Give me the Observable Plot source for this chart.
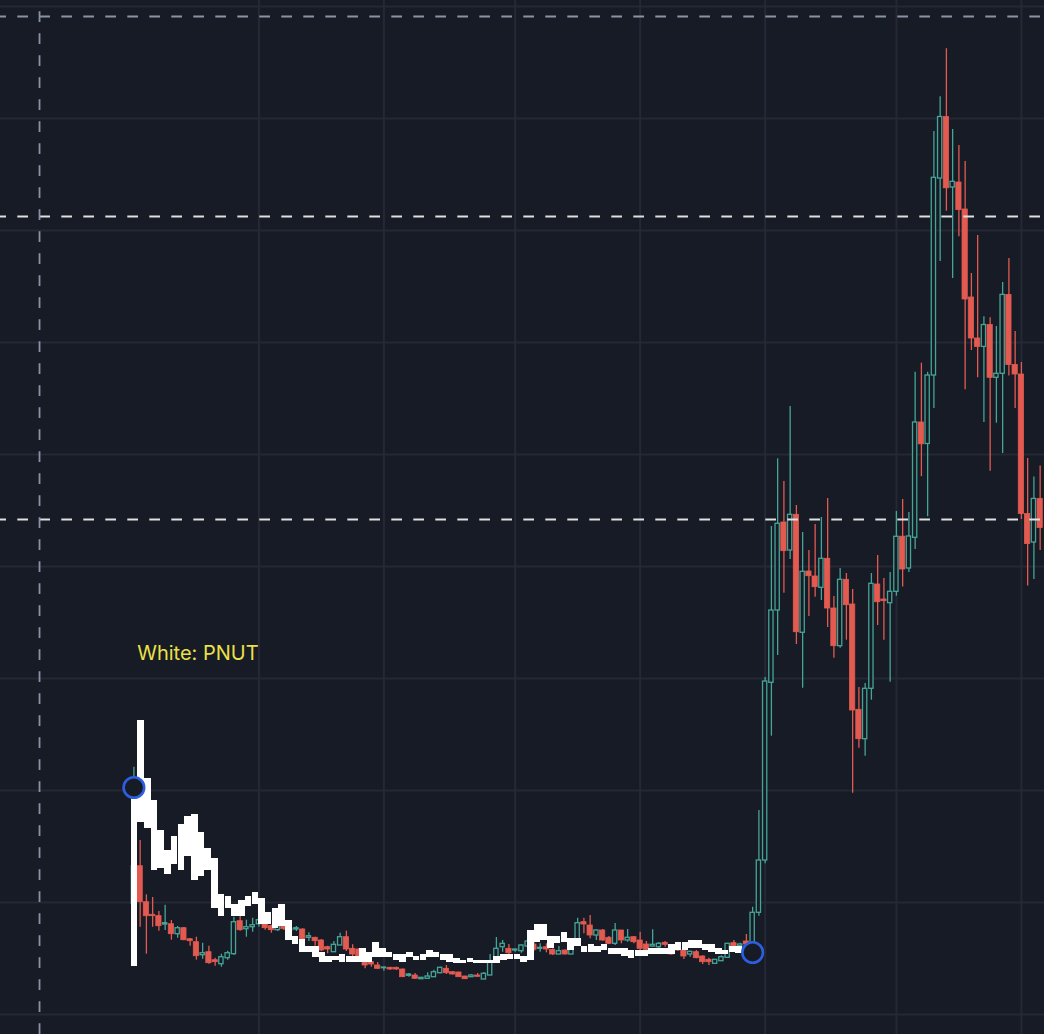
<!DOCTYPE html>
<html><head><meta charset="utf-8">
<script src="https://cdn.jsdelivr.net/npm/d3@7"></script>
<script src="https://cdn.jsdelivr.net/npm/@observablehq/plot@0.6"></script>
<style>
html,body{margin:0;padding:0;background:#171b26;}
#chart{position:relative;width:1044px;height:1034px;overflow:hidden;}
#chart svg{position:absolute;left:0;top:0;}
</style></head><body><div id="chart"></div>
<script>
// Coin candles (teal/red), price in arbitrary chart units, one entry per candle
const coinOpen = [
110.7,148.3,112.3,99.7,98.3,90,90.3,80.3,86.3,75.3,
72.3,59.3,62.3,54.3,50.3,56.3,60.3,93.3,85.3,87.3,
90.3,90.3,88.3,84.3,88.3,84,85,85,76.7,76.7,
74,67.3,62.3,69,77.3,65.7,65,52.3,52.3,49,
46.3,46.7,46.7,45,38.7,39,35.3,35.7,37.3,41.3,
45.7,42.3,42,38,37.3,39,35,39,52.3,67.3,
65.7,64,63.3,68,70,65.7,67.3,64.7,60,64,
60,69,92.3,89,79,84,76.7,70.7,84,74,
77.3,74,70,68,67.3,71.7,69,69,64,60,
62.3,58,54.7,50.7,53.3,56.7,71.3,68.3,73,66,
101.7,154,331.7,404,492,464,499.7,381.7,443,438,
426.7,455.7,406,368.3,434.7,410,304.7,275.3,325.7,430,
415,411.3,422.7,477.8,446,476.7,592,570.5,639,836,
897.5,827,832,805,717,676,667.6,689.5,636.7,640.7,
719.6,649.5,640,500.4,472,515.6];
const coinHigh = [
247.3,174,119.7,117,103,109.3,94,88,87,76,
77.3,71.3,68.3,56.3,60.3,63.3,97.3,98.3,94.3,96.3,
107.3,93,89.3,90,90,88,88,85.7,81.7,77.3,
75,68.3,73,81.3,83.3,69.7,66,53,53,52,
47.3,47.3,47.3,45.5,41,41,37,41.7,44.3,47.3,
49,43,42.3,38.3,40,41,42,60,77,74,
70,65,69.5,83,73,70.7,70.7,65.5,68,64.5,
69,96.3,96.3,99,84.5,85,78,91,84,85,
78,82.3,73,84.7,72,73,70,70,64,63.3,
64,58.7,56.3,55,58.7,71,74,71.3,80,107.3,
204,337,488,555.7,533,608,509,482,464,490,
497,516,418,446,441,425,327,331,441,459,
436,442,503,515,502,642.2,651.3,642.2,883,917.8,
965.8,885,869,853,741,779,697.8,696.7,688,732,
756,683,652,556,537.5,548.4];
const coinLow = [
104,87.3,60.3,87.3,83.3,84,74.3,76.3,73.7,68.3,
54.3,55.3,50.3,48.3,47.3,54.3,59.3,83.3,77.3,82.3,
87.3,84.3,81.3,83,84,82,83,73.3,73,68.3,
63,60.7,62.3,69,63,58,56.5,45.7,47.3,45,
43.3,44,44,37,37.3,35.3,35,35.3,37.3,40.7,
40,39.5,37,35,37.3,37.3,35,39,52.3,62.3,
56.7,62.3,61.3,67.3,63,62.3,61.7,59,60,59.5,
60,69,80.7,75.7,74,73.3,70,69,70.7,72.3,
70.7,64,63.3,67.3,66,67.3,59.5,63,55,57.3,
55.7,50,49,50.7,53.3,56.7,64,68,69,64,
98.3,150.7,278.3,359,421.3,455,370,326.3,398,417.3,
414,387,356.3,366.3,374.3,221.3,266.3,258.3,314.3,389,
374.3,332.3,418.3,427.5,442,465,537.8,497.8,606,753,
803.3,736,777.8,624.7,664,636.7,592,543.3,591.3,561,
638.5,606,495,428.4,435,464];
const coinClose = [
148.3,112.3,98.3,98.3,88.3,91.3,80.3,86.3,74.3,73.3,
58.3,61.3,51.3,52.3,57.3,61.3,92.3,84.3,87.3,89.3,
94.3,86.3,84.3,88.3,85.3,85.5,86.3,74,78.3,73.3,
64,65,69.7,77.3,65,60,57.3,49,50,45.7,
47,45,45,37.3,40,35.7,36.7,38,42.3,46.7,
41.3,40,37.3,35.3,39,37.7,40.7,52.3,65.7,70.7,
61.3,65,69,73,64.7,66.7,65,60,63.3,60,
67.3,91.3,90,79,84,74,70.7,84,74,76.7,
72.3,65.7,64.7,69.7,70.7,69.7,60,64,58,62.7,
56.3,52.3,52.3,54.7,57.3,70.7,65.7,70,70,101.7,
154,333,404,490.7,463.3,499.7,382.3,442.7,438.3,427.3,
455.7,406,368.3,434.7,409.3,304,275.3,325.7,430.7,412.3,
413.3,422.7,477.7,445,478,592,570.2,639,836.7,897.5,
826.2,832.7,804.4,715,676,667.6,689.5,636.7,640.7,719.6,
649.5,640,500.4,470.5,515.6,486.5];

// PNUT overlay (white), its own candle sequence: upper and lower edge of each bar
const pnutHigh = [
227,294,236,214,184,164,178,190,198,200,
182,166,156,120,118,110,114,118,122,116,
102,106,110,94,78,75,68,68,62,58,
58,60,58,58,65.7,62.3,72,65.7,62.3,60,
60,62,58,60,64,62,60,60,56,54,
56,54,54,54,58,60,60,60,58,84,
90,90,78.3,78.3,82.3,75.7,75.7,68,70,68,
70,65.7,65.7,65.7,64,64,64,65.7,65.7,65.7,
70,71.7,71.7,74,74,70,70,65.7,64,68,
68];
const pnutLow = [
48,192.3,186.3,144.3,146.3,140.3,150.3,144.3,158.3,134.3,
138.3,144.3,106.3,98.3,106.3,98.3,98.3,108.3,110.3,90.3,
90.3,86.3,88.3,74.3,70.3,62.3,62.3,56.7,52.3,52.3,
54,52.3,52.3,52.3,52.3,52.3,56.7,56.7,56.7,54,
52.3,56.7,54,54,56.7,56.7,54,52.3,50.7,50.7,
52.3,50.7,50.7,50.7,50.7,54,55,55,52,54,
72,74,65.7,70.7,72.3,64,68,62.3,62.3,62.3,
64,60,60,58,56.3,58,58,60,60,60,
60,64,64,65.7,65.7,64,62.3,60,60,62.3,
61.3];

// Axes / reference levels (no labels shown in the picture)
const priceGrid = [0,112,224,336,448,560,672,784,896,1008];
const timeGrid = [20,40,61,81,101,122,142];
const levelTop = [998];
const levelsWhite = [798, 495];
const verticalMarker = [-15.1];
const markers = [{i:0, value:227}, {i:99, value:62}];
const labels = [{i:0.53, value:355, text:"White: PNUT"}];

const BG = "#171b26", GRID = "#252935", TEAL = "#45a597", RED = "#e35a51", BLUE = "#2c5ee0";
const W = 1044, H = 1034;
const yDomain = [-20, 1014];
const xDomain = [-21.344, 145.696];
const xDomainPnut = [-19.911, 135.446];

const candles = coinOpen.map((o, i) => ({i, open: o, high: coinHigh[i], low: coinLow[i], close: coinClose[i]}));
const up = candles.filter(d => d.close >= d.open);
const down = candles.filter(d => d.close < d.open);
const pnut = pnutHigh.map((h, j) => ({j, high: h, low: pnutLow[j]}));

const base = Plot.plot({
  width: W, height: H, margin: 0,
  x: {domain: xDomain, axis: null},
  y: {domain: yDomain, axis: null},
  style: {background: BG},
  marks: [
    Plot.ruleY(priceGrid, {stroke: GRID, strokeWidth: 2}),
    Plot.ruleX(timeGrid, {stroke: GRID, strokeWidth: 2}),
    Plot.ruleX(up, {x: "i", y1: "low", y2: "high", stroke: TEAL, strokeWidth: 1.3}),
    Plot.ruleX(down, {x: "i", y1: "low", y2: "high", stroke: RED, strokeWidth: 1.3}),
    Plot.rect(up, {x1: d => d.i - 0.5, x2: d => d.i + 0.5, y1: "open", y2: "close", insetLeft: 1, insetRight: 1, fill: BG, stroke: TEAL, strokeWidth: 1.3}),
    Plot.rect(down, {x1: d => d.i - 0.5, x2: d => d.i + 0.5, y1: "open", y2: "close", insetLeft: 0.5, insetRight: 0.5, fill: RED, stroke: RED, strokeWidth: 0.8}),
    Plot.ruleY(levelTop, {stroke: "#8a93a5", strokeWidth: 2, strokeDasharray: "10.7,11.3", strokeDashoffset: 4.7}),
    Plot.ruleY(levelsWhite, {stroke: "#e0e0e0", strokeWidth: 2, strokeDasharray: "10.7,11.3", strokeDashoffset: 4.7}),
    Plot.ruleX(verticalMarker, {stroke: "#8a93a5", strokeWidth: 1.8, strokeDasharray: "10.7,11.3", strokeDashoffset: 10.7})
  ]
});

const whiteLayer = Plot.plot({
  width: W, height: H, margin: 0,
  x: {domain: xDomainPnut, axis: null},
  y: {domain: yDomain, axis: null},
  style: {background: "transparent"},
  marks: [
    Plot.rect(pnut, {x1: d => d.j - 0.5, x2: d => d.j + 0.5, y1: "low", y2: "high", insetLeft: 0.1, insetRight: 0.1, fill: "#ffffff", shapeRendering: "crispEdges"})
  ]
});

const topLayer = Plot.plot({
  width: W, height: H, margin: 0,
  x: {domain: xDomain, axis: null},
  y: {domain: yDomain, axis: null},
  style: {background: "transparent"},
  marks: [
    Plot.dot(markers, {x: "i", y: "value", r: 10.3, stroke: BLUE, strokeWidth: 2.6, fill: BG}),
    Plot.text(labels, {x: "i", y: "value", text: "text", fill: "#ebe146", fontSize: 20, fontFamily: "Inter", textAnchor: "start", lineAnchor: "bottom"})
  ]
});

const el = document.getElementById("chart");
el.append(base, whiteLayer, topLayer);
</script>
</body></html>
